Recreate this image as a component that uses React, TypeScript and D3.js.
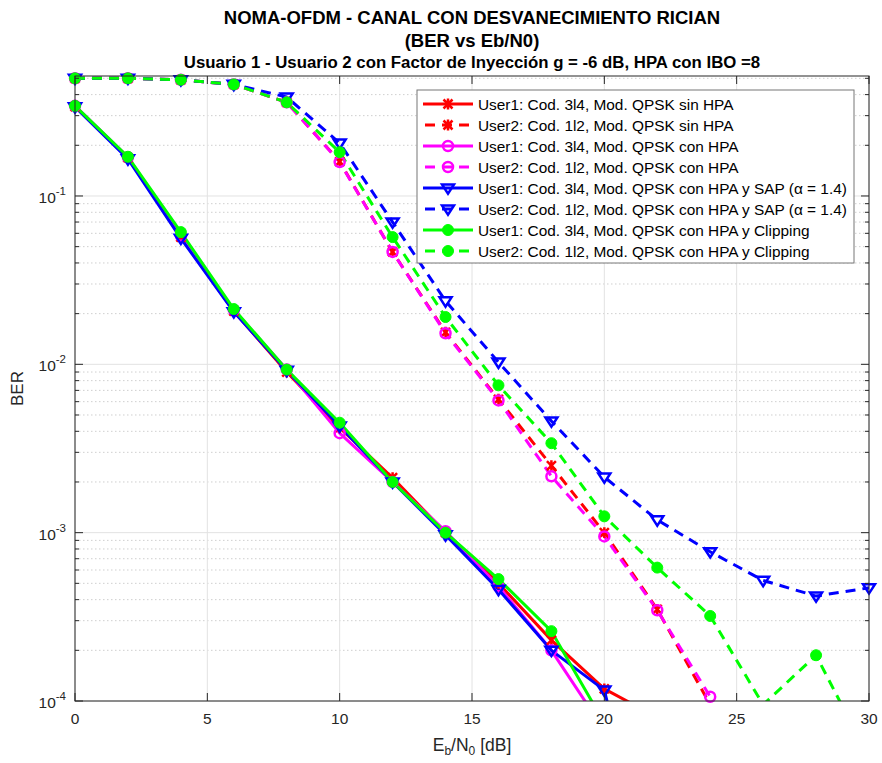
import React from "react";
import * as d3 from "d3";

const ebn0 = [0, 2, 4, 6, 8, 10, 12, 14, 16, 18, 20, 22, 24, 26, 28, 30];

const u1SinHPA = [0.340, 0.169, 0.057, 0.0207, 0.0090, 0.0042, 0.00212, 0.00100, 0.00050, 0.00023, 0.000118, 0.000080];
const u2SinHPA = [0.50, 0.50, 0.49, 0.46, 0.36, 0.160, 0.0465, 0.0155, 0.0062, 0.0025, 0.00100, 0.00035, 0.000095];
const u1ConHPA = [0.343, 0.170, 0.058, 0.0210, 0.0093, 0.0039, 0.0020, 0.00102, 0.00048, 0.00020, 0.000067];
const u2ConHPA = [0.50, 0.50, 0.49, 0.46, 0.36, 0.159, 0.0465, 0.0153, 0.0061, 0.00216, 0.00095, 0.000346, 0.000106];
const u1SAP = [0.338, 0.166, 0.056, 0.0205, 0.0092, 0.0043, 0.0020, 0.00097, 0.00046, 0.00020, 0.000116, 0.000006];
const u2SAP = [0.50, 0.50, 0.49, 0.46, 0.387, 0.206, 0.070, 0.0238, 0.0103, 0.0046, 0.00214, 0.00119, 0.00077, 0.00052, 0.00042, 0.00047];
const u1Clip = [0.343, 0.171, 0.061, 0.0213, 0.0093, 0.0045, 0.0020, 0.00100, 0.00053, 0.00026, 0.000074];
const u2Clip = [0.50, 0.50, 0.49, 0.46, 0.36, 0.182, 0.057, 0.0191, 0.0075, 0.0034, 0.00125, 0.00062, 0.00032, 0.000095, 0.000187, 0.000046];

const legendLabels = [
  "User1: Cod. 3l4, Mod. QPSK sin HPA",
  "User2: Cod. 1l2, Mod. QPSK sin HPA",
  "User1: Cod. 3l4, Mod. QPSK con HPA",
  "User2: Cod. 1l2, Mod. QPSK con HPA",
  "User1: Cod. 3l4, Mod. QPSK con HPA y SAP (\u03b1 = 1.4)",
  "User2: Cod. 1l2, Mod. QPSK con HPA y SAP (\u03b1 = 1.4)",
  "User1: Cod. 3l4, Mod. QPSK con HPA y Clipping",
  "User2: Cod. 1l2, Mod. QPSK con HPA y Clipping",
];

const xTicks = [0, 5, 10, 15, 20, 25, 30];
const yDecades = [-4, -3, -2, -1];

type Series = { values: number[]; color: string; dashed: boolean; marker: string };

const series: Series[] = [
  { values: u1SinHPA, color: "#ff0000", dashed: false, marker: "x" },
  { values: u2SinHPA, color: "#ff0000", dashed: true, marker: "x" },
  { values: u1ConHPA, color: "#ff00ff", dashed: false, marker: "o" },
  { values: u2ConHPA, color: "#ff00ff", dashed: true, marker: "o" },
  { values: u1SAP, color: "#0000ff", dashed: false, marker: "v" },
  { values: u2SAP, color: "#0000ff", dashed: true, marker: "v" },
  { values: u1Clip, color: "#00ff00", dashed: false, marker: "dot" },
  { values: u2Clip, color: "#00ff00", dashed: true, marker: "dot" },
];

const L = 75, R = 869, T = 76, B = 701;
const FONT = "'Liberation Sans', Arial, Helvetica, sans-serif";
const AX = "#262626";

function Marker({ type, x, y, color }: { type: string; x: number; y: number; color: string }) {
  if (type === "o") return <circle cx={x} cy={y} r={5} fill="none" stroke={color} strokeWidth={2.5} />;
  if (type === "dot") return <circle cx={x} cy={y} r={5.5} fill={color} stroke={color} strokeWidth={1} />;
  if (type === "v") {
    const s = 6;
    return <path d={`M${x - s},${y - s * 0.6} L${x + s},${y - s * 0.6} L${x},${y + s * 0.95} Z`} fill="none" stroke={color} strokeWidth={2.5} strokeLinejoin="miter" />;
  }
  const s = 4.5;
  return (
    <path d={`M${x - s},${y - s} L${x + s},${y + s} M${x - s},${y + s} L${x + s},${y - s} M${x},${y - s * 1.2} L${x},${y + s * 1.2}`} stroke={color} strokeWidth={2.5} fill="none" />
  );
}

export default function App() {
  const x = d3.scaleLinear().domain([0, 30]).range([L, R]);
  const y = d3.scaleLog().domain([1e-4, 0.516]).range([B, T]);
  const line = d3.line<number>().x((_, i) => x(ebn0[i])).y((d) => y(d));

  const minor: number[] = [];
  for (let e = -4; e <= -1; e++) for (let m = 2; m <= 9; m++) {
    const v = m * Math.pow(10, e);
    if (v <= 0.516) minor.push(v);
  }

  return (
    <div style={{ position: "absolute", left: 0, top: 0 }}>
      <svg width={882} height={763} style={{ display: "block", background: "#fff" }} fontFamily={FONT}>
        <defs>
          <clipPath id="plotclip"><rect x={L} y={T} width={R - L} height={B - T} /></clipPath>
        </defs>
        <rect x={L} y={T} width={R - L} height={B - T} fill="#fff" />
        {minor.map((v, i) => (
          <line key={"mg" + i} x1={L} x2={R} y1={y(v)} y2={y(v)} stroke="#cfcfcf" strokeWidth={1} strokeDasharray="1.5,2.5" />
        ))}
        {yDecades.map((e) => (
          <line key={"gy" + e} x1={L} x2={R} y1={y(Math.pow(10, e))} y2={y(Math.pow(10, e))} stroke="#e2e2e2" strokeWidth={1} />
        ))}
        {xTicks.map((t) => (
          <line key={"gx" + t} x1={x(t)} x2={x(t)} y1={T} y2={B} stroke="#e2e2e2" strokeWidth={1} />
        ))}
        <g clipPath="url(#plotclip)">
          {series.map((s, i) => (
            <path key={"l" + i} d={line(s.values) || ""} fill="none" stroke={s.color}
              strokeWidth={3} strokeDasharray={s.dashed ? "10,7" : undefined} strokeLinejoin="round" />
          ))}
        </g>
        {series.map((s, i) => (
          <g key={"m" + i}>
            {s.values.map((v, j) =>
              v >= 1e-4 && v <= 0.516 ? <Marker key={j} type={s.marker} x={x(ebn0[j])} y={y(v)} color={s.color} /> : null
            )}
          </g>
        ))}
        <rect x={L} y={T} width={R - L} height={B - T} fill="none" stroke={AX} strokeWidth={1} />
        {xTicks.map((t) => (
          <g key={"tx" + t}>
            <line x1={x(t)} x2={x(t)} y1={B} y2={B - 8} stroke={AX} />
            <line x1={x(t)} x2={x(t)} y1={T} y2={T + 8} stroke={AX} />
            <text x={x(t)} y={724} textAnchor="middle" fontSize={15.5} fill={AX}>{t}</text>
          </g>
        ))}
        {yDecades.map((e) => (
          <g key={"ty" + e}>
            <line x1={L} x2={L + 8} y1={y(Math.pow(10, e))} y2={y(Math.pow(10, e))} stroke={AX} />
            <line x1={R} x2={R - 8} y1={y(Math.pow(10, e))} y2={y(Math.pow(10, e))} stroke={AX} />
            <text x={66} y={y(Math.pow(10, e)) + 7} textAnchor="end" fontSize={15.5} fill={AX}>
              10<tspan dy={-8} fontSize={11.5}>{e}</tspan>
            </text>
          </g>
        ))}
        {minor.map((v, i) => (
          <g key={"mt" + i}>
            <line x1={L} x2={L + 4} y1={y(v)} y2={y(v)} stroke={AX} />
            <line x1={R} x2={R - 4} y1={y(v)} y2={y(v)} stroke={AX} />
          </g>
        ))}
        <text x={472} y={751} textAnchor="middle" fontSize={17.5} fill={AX}>
          E<tspan dy={4} fontSize={12}>b</tspan><tspan dy={-4}>/N</tspan><tspan dy={4} fontSize={12}>0</tspan><tspan dy={-4}> [dB]</tspan>
        </text>
        <text transform={`translate(23,${(T + B) / 2}) rotate(-90)`} textAnchor="middle" fontSize={17} fill={AX}>BER</text>
        <text x={472} y={24} textAnchor="middle" fontSize={18.5} fontWeight="bold" fill="#000">NOMA-OFDM - CANAL CON DESVANECIMIENTO RICIAN</text>
        <text x={472} y={47} textAnchor="middle" fontSize={18.5} fontWeight="bold" fill="#000">(BER vs Eb/N0)</text>
        <text x={472} y={68} textAnchor="middle" fontSize={16.8} fontWeight="bold" fill="#000">Usuario 1 - Usuario 2 con Factor de Inyección g = -6 dB, HPA con IBO =8</text>
        <rect x={417} y={90} width={437} height={173} fill="#fff" stroke="#777" strokeWidth={1} />
        {series.map((s, i) => {
          const cy = 104 + i * 21;
          return (
            <g key={"lg" + i}>
              <line x1={423} x2={473} y1={cy} y2={cy} stroke={s.color} strokeWidth={3}
                strokeDasharray={s.dashed ? "10,7" : undefined} strokeDashoffset={s.dashed ? -2 : 0} />
              <Marker type={s.marker} x={448} y={cy} color={s.color} />
              <text x={478} y={cy + 5.5} fontSize={15.4} fill="#000">{legendLabels[i]}</text>
            </g>
          );
        })}
      </svg>
    </div>
  );
}
